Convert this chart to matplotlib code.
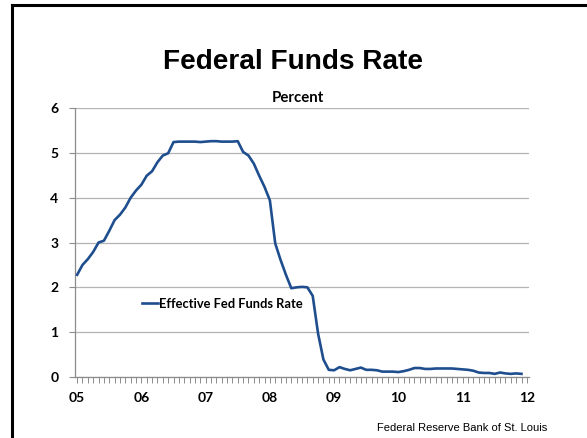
import matplotlib
matplotlib.use("Agg")
import matplotlib.pyplot as plt
from matplotlib.lines import Line2D
from matplotlib.ticker import FixedLocator, MultipleLocator, NullFormatter

# Monthly effective federal funds rate, Jan 2005 - Dec 2011 (percent)
rate_2005 = [2.28, 2.50, 2.63, 2.79, 3.00, 3.04, 3.26, 3.50, 3.62, 3.78, 4.00, 4.16]
rate_2006 = [4.29, 4.49, 4.59, 4.79, 4.94, 4.99, 5.24, 5.25, 5.25, 5.25, 5.25, 5.24]
rate_2007 = [5.25, 5.26, 5.26, 5.25, 5.25, 5.25, 5.26, 5.02, 4.94, 4.76, 4.49, 4.24]
rate_2008 = [3.94, 2.98, 2.61, 2.28, 1.98, 2.00, 2.01, 2.00, 1.81, 0.97, 0.39, 0.16]
rate_2009 = [0.15, 0.22, 0.18, 0.15, 0.18, 0.21, 0.16, 0.16, 0.15, 0.12, 0.12, 0.12]
rate_2010 = [0.11, 0.13, 0.16, 0.20, 0.20, 0.18, 0.18, 0.19, 0.19, 0.19, 0.19, 0.18]
rate_2011 = [0.17, 0.16, 0.14, 0.10, 0.09, 0.09, 0.07, 0.10, 0.08, 0.07, 0.08, 0.07]

year_labels = ["05", "06", "07", "08", "09", "10", "11", "12"]
y_ticks = [0, 1, 2, 3, 4, 5, 6]
series_name = "Effective Fed Funds Rate"

rates = rate_2005 + rate_2006 + rate_2007 + rate_2008 + rate_2009 + rate_2010 + rate_2011
months = list(range(len(rates)))

LINE_BLUE = "#1F4E8E"
GRID_GRAY = "#B3B3B3"
AXIS_GRAY = "#8C8C8C"
label_font = "Lato"

fig = plt.figure(figsize=(5.87, 4.38), dpi=100)

# slide frame: left and top rules only
fig.add_artist(Line2D([11.5 / 587, 11.5 / 587], [0, 1 - 4.5 / 438],
                      transform=fig.transFigure, color="black", lw=2.2,
                      solid_capstyle="projecting"))
fig.add_artist(Line2D([11.5 / 587, 1], [1 - 4.5 / 438, 1 - 4.5 / 438],
                      transform=fig.transFigure, color="black", lw=2.2,
                      solid_capstyle="projecting"))

ax = fig.add_axes([75 / 587, 1 - 377 / 438, 454 / 587, 269 / 438])
ax.plot(months, rates, color=LINE_BLUE, lw=1.9, solid_joinstyle="round",
        label=series_name, zorder=3)

ax.set_ylim(0, 6)
ax.set_xlim(-0.4, 84.4)

ax.yaxis.set_major_locator(FixedLocator(y_ticks))
ax.set_yticklabels([str(v) for v in y_ticks], fontfamily=label_font,
                   fontweight="bold", fontsize=10)
ax.grid(axis="y", color=GRID_GRAY, lw=0.9, zorder=0)
ax.tick_params(axis="y", length=4, width=0.8, color=AXIS_GRAY, pad=8)

ax.xaxis.set_major_locator(FixedLocator([12 * i for i in range(len(year_labels))]))
ax.set_xticklabels(year_labels, fontfamily=label_font, fontweight="bold", fontsize=10)
ax.xaxis.set_minor_locator(MultipleLocator(1))
ax.xaxis.set_minor_formatter(NullFormatter())
ax.tick_params(axis="x", which="both", length=4, width=0.7, color=AXIS_GRAY, pad=7)

for side in ("top", "right"):
    ax.spines[side].set_visible(False)
for side in ("left", "bottom"):
    ax.spines[side].set_color(AXIS_GRAY)
    ax.spines[side].set_linewidth(0.9)

leg = ax.legend(loc="center left", bbox_to_anchor=(0.148, 0.273), frameon=False,
                handlelength=1.2, handletextpad=0.1, borderaxespad=0, borderpad=0,
                prop={"family": label_font, "weight": "bold", "size": 9.3})

fig.text(293 / 587, 1 - 62 / 438, "Federal Funds Rate", ha="center", va="center",
         fontfamily="Liberation Sans", fontweight="bold", fontsize=20.2)
fig.text(298 / 587, 1 - 98 / 438, "Percent", ha="center", va="center",
         fontfamily=label_font, fontweight="bold", fontsize=10.8)
fig.text(377 / 587, 1 - 428 / 438, "Federal Reserve Bank of St. Louis", ha="left",
         va="center", fontfamily="Liberation Sans", fontsize=8.0)

fig.savefig("out.png", dpi=100)
